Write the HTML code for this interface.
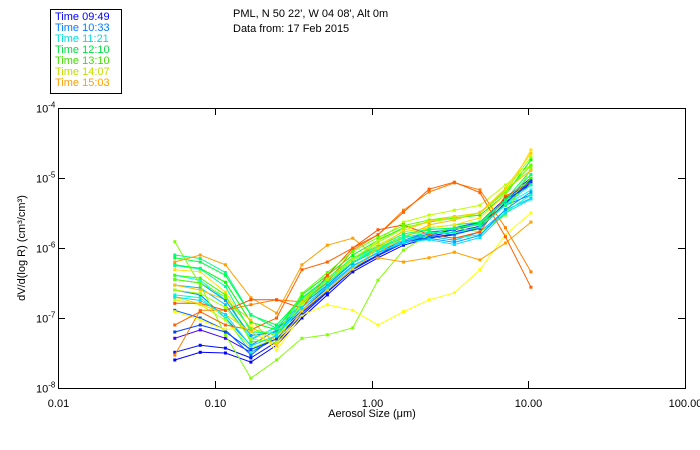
<!DOCTYPE html>
<html><head><meta charset="utf-8"><style>
body{margin:0;background:#fff}
svg{display:block;font-family:"Liberation Sans",sans-serif}
</style></head><body>
<svg width="700" height="450" viewBox="0 0 700 450">
<g>
<rect x="50.5" y="9.5" width="71" height="84" fill="none" stroke="#000"/>
<g font-size="11">
<text x="55" y="20" fill="#0000ff">Time 09:49</text>
<text x="55" y="31" fill="#0080ff">Time 10:33</text>
<text x="55" y="42" fill="#00e0e0">Time 11:21</text>
<text x="55" y="53" fill="#00e040">Time 12:10</text>
<text x="55" y="64" fill="#40e000">Time 13:10</text>
<text x="55" y="75" fill="#c0e000">Time 14:07</text>
<text x="55" y="86" fill="#ffa000">Time 15:03</text>
</g></g>
<text x="233" y="17" font-size="11">PML, N 50 22', W 04 08', Alt 0m</text>
<text x="233" y="32" font-size="11">Data from: 17 Feb 2015</text>
<rect x="58.5" y="108.5" width="627" height="280" fill="none" stroke="#000"/>
<g id="axes"></g>
<g id="series"></g>
<text x="372" y="417" font-size="11" text-anchor="middle">Aerosol Size (μm)</text>
<text transform="translate(25,248) rotate(-90)" font-size="11" text-anchor="middle">dV/d(log R) (cm³/cm³)</text>
</svg>
<script>
const sizes=[0.0556,0.0808,0.117,0.170,0.248,0.360,0.523,0.760,1.10,1.60,2.33,3.38,4.92,7.15,10.4];
const xTicks=[0.01,0.1,1,10,100];
const xTickLabels=["0.01","0.10","1.00","10.00","100.00"];
const yTickExp=[-4,-5,-6,-7,-8];
const colors=["#0000ff","#0010f0","#4000ff","#0060ff","#0080ff","#00c0ff","#00ffff","#00ffc0","#00ff40","#00ff00","#40ff00","#80ff00","#c0ff00","#ffff00","#ffe000","#ffa000","#ffc000","#ff8000","#ff5000","#ff6000","#0040ff","#00a0ff","#00ffa0","#00ff80","#60ff00","#a0ff00","#ffd000","#00e0ff"];
// log10 of dV/d(log R)
const L1=[-7.60,-7.49,-7.50,-7.63,-7.39,-7.00,-6.67,-6.34,-6.14,-5.96,-5.86,-5.81,-5.71,-5.36,-5.07];
const L2=[-7.49,-7.39,-7.43,-7.57,-7.34,-6.96,-6.63,-6.31,-6.11,-5.93,-5.83,-5.77,-5.69,-5.31,-5.03];
const L3=[-7.29,-7.17,-7.29,-7.49,-7.29,-6.91,-6.60,-6.29,-6.10,-5.91,-5.81,-5.74,-5.63,-5.29,-5.00];
const L4=[-6.89,-7.00,-7.17,-7.53,-7.24,-6.89,-6.57,-6.26,-6.06,-5.89,-5.80,-5.71,-5.63,-5.31,-5.10];
const L5=[-6.60,-6.67,-7.00,-7.39,-7.17,-6.81,-6.53,-6.21,-6.03,-5.89,-5.77,-5.74,-5.66,-5.39,-5.24];
const L6=[-6.53,-6.57,-6.81,-7.31,-7.13,-6.79,-6.50,-6.20,-6.03,-5.90,-5.83,-5.89,-5.77,-5.46,-5.29];
const L7=[-6.39,-6.46,-6.74,-7.29,-7.14,-6.74,-6.46,-6.17,-6.00,-5.86,-5.77,-5.81,-5.71,-5.39,-5.17];
const L8=[-6.67,-6.71,-7.00,-7.49,-7.24,-6.81,-6.50,-6.20,-6.03,-5.89,-5.81,-5.86,-5.81,-5.49,-5.24];
const L9=[-6.14,-6.20,-6.39,-6.96,-7.10,-6.71,-6.43,-6.14,-5.96,-5.77,-5.71,-5.67,-5.63,-5.31,-4.89];
const L10=[-6.24,-6.29,-6.49,-7.06,-7.17,-6.67,-6.39,-6.10,-5.89,-5.71,-5.63,-5.57,-5.53,-5.24,-4.74];
const L11=[-6.39,-6.43,-6.67,-7.34,-7.31,-6.74,-6.49,-6.20,-6.00,-5.83,-5.74,-5.71,-5.67,-5.39,-5.00];
const L12=[-5.91,-6.53,-7.24,-7.86,-7.60,-7.29,-7.24,-7.14,-6.46,-6.03,-5.81,-5.71,-5.77,-5.53,-4.86];
const L13=[-6.74,-6.81,-7.03,-7.43,-7.29,-6.81,-6.49,-6.17,-5.89,-5.63,-5.53,-5.46,-5.39,-5.10,-4.81];
const L14=[-6.91,-7.03,-7.17,-7.10,-7.46,-6.96,-6.81,-6.89,-7.10,-6.91,-6.74,-6.64,-6.31,-5.81,-5.50];
const L15=[-6.31,-6.34,-6.63,-7.17,-7.31,-6.74,-6.43,-6.17,-5.96,-5.77,-5.71,-5.67,-5.57,-5.24,-4.60];
const L16=[-6.20,-6.10,-6.24,-6.71,-6.93,-6.24,-5.96,-5.86,-6.14,-6.20,-6.14,-6.06,-6.17,-5.93,-5.63];
const L17=[-6.53,-6.60,-6.74,-7.03,-7.39,-6.89,-6.60,-6.29,-6.06,-5.86,-5.67,-5.60,-5.49,-5.17,-4.89];
const L18=[-7.53,-6.89,-6.89,-6.81,-6.74,-6.77,-6.49,-6.03,-5.81,-5.46,-5.20,-5.07,-5.17,-5.71,-6.34];
const L19=[-6.79,-6.79,-6.89,-6.74,-6.74,-6.86,-6.39,-6.00,-5.74,-5.67,-5.81,-5.86,-5.77,-5.26,-5.07];
const L20=[-7.10,-6.91,-7.10,-7.17,-7.00,-6.31,-6.20,-6.00,-5.81,-5.49,-5.16,-5.06,-5.21,-5.84,-6.56];
const L21=[-7.20,-7.10,-7.20,-7.45,-7.30,-6.93,-6.62,-6.30,-6.10,-5.93,-5.85,-5.80,-5.72,-5.35,-5.05];
const L22=[-6.45,-6.50,-6.75,-7.25,-7.20,-6.85,-6.55,-6.25,-6.07,-5.93,-5.86,-5.92,-5.82,-5.45,-5.20];
const L23=[-6.25,-6.30,-6.55,-7.20,-7.22,-6.78,-6.50,-6.20,-6.02,-5.85,-5.78,-5.78,-5.70,-5.38,-5.10];
const L24=[-6.10,-6.15,-6.35,-6.95,-7.15,-6.72,-6.44,-6.15,-5.98,-5.80,-5.73,-5.72,-5.65,-5.33,-4.95];
const L25=[-6.45,-6.50,-6.70,-7.15,-7.25,-6.65,-6.35,-6.05,-5.85,-5.68,-5.60,-5.55,-5.50,-5.20,-4.82];
const L26=[-6.60,-6.65,-6.85,-7.30,-7.35,-6.78,-6.45,-6.15,-5.92,-5.72,-5.62,-5.58,-5.50,-5.18,-4.70];
const L27=[-6.70,-6.80,-6.95,-7.20,-7.40,-6.90,-6.60,-6.30,-6.00,-5.75,-5.62,-5.55,-5.50,-5.15,-4.65];
const L28=[-6.70,-6.75,-6.95,-7.40,-7.25,-6.85,-6.56,-6.26,-6.06,-5.92,-5.88,-5.95,-5.85,-5.50,-5.30];
const seriesList=[L1,L2,L3,L4,L5,L6,L7,L8,L9,L10,L11,L12,L13,L14,L15,L16,L17,L18,L19,L20,L21,L22,L23,L24,L25,L26,L27,L28];

const NS="http://www.w3.org/2000/svg";
const X0=58,X1=685,Y0=108,Y1=388;
function xs(v){return X0+(Math.log10(v)+2)/4*(X1-X0);}
function ys(e){return Y0+(-4-e)/4*(Y1-Y0);}
const axes=document.getElementById('axes');
function mk(tag,attrs,parent){const el=document.createElementNS(NS,tag);for(const k in attrs)el.setAttribute(k,attrs[k]);parent.appendChild(el);return el;}
xTicks.forEach((t,i)=>{
  const x=Math.round(xs(t))+0.5;
  const tk=mk('path',{d:`M${x},${Y1}v-7M${x},${Y0}v7`,stroke:'#000',fill:'none'},axes);
  
  
  const lb=mk('text',{x:x,y:Y1+19,'font-size':11,'text-anchor':'middle'},axes);
  lb.textContent=xTickLabels[i];
  
  
});
yTickExp.forEach(e=>{
  const y=Math.round(ys(e))+0.5;
  const tk=mk('path',{d:`M${X0},${y}h7M${X1},${y}h-7`,stroke:'#000',fill:'none'},axes);
  
  
  const lb=mk('text',{x:36,y:y+4,'font-size':11},axes);
  lb.textContent='10';
  const sp=mk('tspan',{dy:-5,'font-size':8},lb);
  sp.textContent=String(e);
  
  
});
const sg=document.getElementById('series');
seriesList.forEach((s,i)=>{
  const g=mk('g',{},sg);
  
  
  const pts=s.map((e,j)=>[xs(sizes[j]),ys(e)]);
  const pl=mk('polyline',{points:pts.map(p=>p.join(',')).join(' '),fill:'none',stroke:colors[i],'stroke-width':1},g);
  
  
  pts.forEach(p=>{
    const r=mk('rect',{x:p[0]-1.5,y:p[1]-1.5,width:3,height:3,fill:colors[i]},g);
    
    
  });
});
</script>
</body></html>
